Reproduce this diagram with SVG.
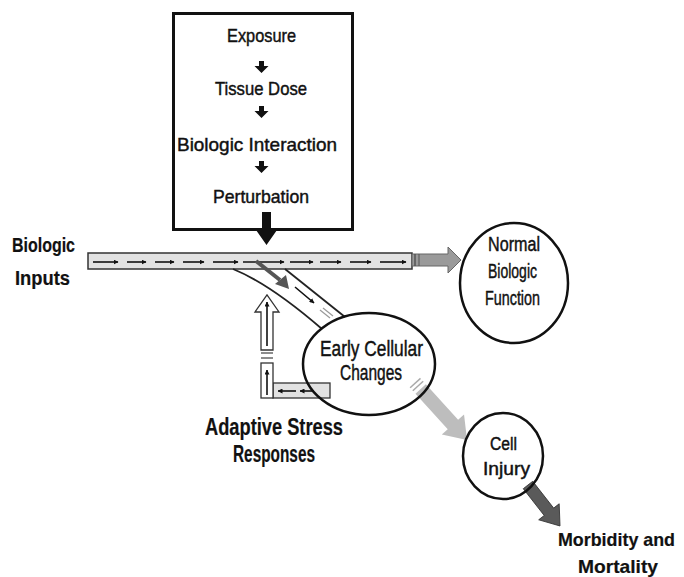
<svg xmlns="http://www.w3.org/2000/svg" width="684" height="577" viewBox="0 0 684 577">
<style>
text{font-family:"Liberation Sans",Arial,sans-serif;fill:#111;stroke:#111;stroke-width:0.45}
.t{font-size:19px}
.b{font-weight:bold;stroke-width:0.2}
.node{fill:none;stroke:#111;stroke-width:2.5}
.sm{stroke:#111;stroke-width:1.6;fill:none;marker-end:url(#ah)}
.pipe{stroke:#333;stroke-width:1.3}
</style>
<defs>
<marker id="ah" viewBox="0 0 10 10" refX="9" refY="5" markerWidth="5" markerHeight="5" markerUnits="userSpaceOnUse" orient="auto">
<path d="M0,0 L10,5 L0,10 z" fill="#111"/>
</marker>
</defs>
<rect width="684" height="577" fill="#fff"/>

<g id="connectors">
  <!-- main bar -->
  <rect x="88" y="253" width="324" height="16" fill="#e2e2e2" stroke="#333" stroke-width="1.5"/>
  <line class="sm" x1="93" y1="262" x2="118" y2="262"/>
  <line class="sm" x1="127" y1="262" x2="146" y2="262"/>
  <line class="sm" x1="155" y1="262" x2="174" y2="262"/>
  <line class="sm" x1="183" y1="262" x2="204" y2="262"/>
  <line class="sm" x1="213" y1="262" x2="238" y2="262"/>
  <line class="sm" x1="243" y1="262" x2="284" y2="262"/>
  <line class="sm" x1="290" y1="262" x2="313" y2="262"/>
  <line class="sm" x1="320" y1="262" x2="341" y2="262"/>
  <line class="sm" x1="350" y1="262" x2="371" y2="262"/>
  <line class="sm" x1="380" y1="262" x2="406" y2="262"/>
  <!-- bar end arrow -->
  <polygon points="412,254 448,254 448,247 461,260 448,273 448,266 412,266" fill="#9a9a9a" stroke="#666" stroke-width="1"/>
  <line x1="415" y1="254" x2="415" y2="266" stroke="#555" stroke-width="1.5"/>
  <line x1="419" y1="254" x2="419" y2="266" stroke="#555" stroke-width="1"/>

  <!-- perturbation arrow -->
  <polygon points="262,212 271,212 271,230 277,230 266.5,245 256,230 262,230" fill="#111"/>

  <!-- diverging channel -->
  <path d="M233,269 Q270,284 322,329" fill="none" stroke="#222" stroke-width="1.8"/>
  <path d="M285,269 L345,317" fill="none" stroke="#222" stroke-width="1.8"/>
  <line x1="256" y1="261" x2="280" y2="280" stroke="#555" stroke-width="4"/>
  <polygon points="275,284 286,275 289,289" fill="#555"/>
  <line class="sm" x1="295" y1="287" x2="314" y2="303"/>
  <line x1="320" y1="310" x2="330" y2="318" stroke="#999" stroke-width="1.3"/>
  <line x1="323" y1="308" x2="333" y2="316" stroke="#999" stroke-width="1.3"/>

  <!-- adaptive stress response pipe -->
  <polygon class="pipe" points="261,350 261,312 255,312 267,295 279,312 273,312 273,350" fill="#fff"/>
  <line x1="261" y1="353" x2="273" y2="353" stroke="#666" stroke-width="1.5"/>
  <line x1="261" y1="358" x2="273" y2="358" stroke="#666" stroke-width="1.5"/>
  <line class="sm" x1="267" y1="346" x2="267" y2="302"/>
  <rect class="pipe" x="273" y="383" width="57" height="15" fill="#e2e2e2"/>
  <rect class="pipe" x="261" y="363" width="12" height="35" fill="#fff"/>
  <line class="sm" x1="267" y1="395" x2="267" y2="370"/>
  <line class="sm" x1="296" y1="391" x2="278" y2="391"/>
  <line class="sm" x1="314" y1="391" x2="300" y2="391"/>

  <!-- early changes to cell injury -->
  <g transform="translate(418,386) rotate(47.8)">
    <polygon points="4,-7 52,-7 52,-15 73,0 52,15 52,7 4,7" fill="#bdbdbd"/>
    <line x1="-4" y1="-7" x2="-4" y2="7" stroke="#aaa" stroke-width="1.5"/>
    <line x1="0" y1="-7" x2="0" y2="7" stroke="#aaa" stroke-width="1.5"/>
  </g>
  <!-- cell injury to morbidity -->
  <g transform="translate(528,485) rotate(52)">
    <polygon points="0,-6 34,-6 34,-13 52,0 34,13 34,6 0,6" fill="#5a5a5a" stroke="#333" stroke-width="0.8"/>
  </g>
</g>

<g id="box">
  <rect x="173.5" y="13.5" width="179" height="216" fill="none" stroke="#111" stroke-width="3"/>
  <text class="t" x="227" y="42" textLength="69" lengthAdjust="spacingAndGlyphs">Exposure</text>
  <polygon points="259,61 264,61 264,66 268.5,66 261.5,73 254.5,66 259,66" fill="#111"/>
  <text class="t" x="215" y="95" textLength="92" lengthAdjust="spacingAndGlyphs">Tissue Dose</text>
  <polygon points="259,106 264,106 264,111 268.5,111 261.5,118 254.5,111 259,111" fill="#111"/>
  <text class="t" x="177" y="151" textLength="160" lengthAdjust="spacingAndGlyphs">Biologic Interaction</text>
  <polygon points="259,161 264,161 264,166 268.5,166 261.5,173 254.5,166 259,166" fill="#111"/>
  <text class="t" x="213" y="203" textLength="96" lengthAdjust="spacingAndGlyphs">Perturbation</text>
</g>

<g id="biologic-inputs">
  <text class="b" font-size="20" x="12" y="252" textLength="63" lengthAdjust="spacingAndGlyphs">Biologic</text>
  <text class="b" font-size="20" x="15" y="285" textLength="55" lengthAdjust="spacingAndGlyphs">Inputs</text>
</g>

<g id="normal-function">
  <ellipse class="node" cx="514" cy="283" rx="54" ry="60"/>
  <text font-size="20" x="488" y="251" textLength="52" lengthAdjust="spacingAndGlyphs">Normal</text>
  <text font-size="20" x="488" y="278" textLength="49" lengthAdjust="spacingAndGlyphs">Biologic</text>
  <text font-size="20" x="485" y="305" textLength="55" lengthAdjust="spacingAndGlyphs">Function</text>
</g>

<g id="early-changes">
  <ellipse class="node" cx="369" cy="364" rx="66" ry="51"/>
  <text font-size="22" x="320" y="356" textLength="103" lengthAdjust="spacingAndGlyphs">Early Cellular</text>
  <text font-size="22" x="340" y="380" textLength="62" lengthAdjust="spacingAndGlyphs">Changes</text>
</g>

<g id="adaptive">
  <text class="b" font-size="23" x="205" y="435" textLength="138" lengthAdjust="spacingAndGlyphs">Adaptive Stress</text>
  <text class="b" font-size="23" x="233" y="462" textLength="82" lengthAdjust="spacingAndGlyphs">Responses</text>
</g>

<g id="cell-injury">
  <ellipse class="node" cx="503" cy="456" rx="40" ry="43"/>
  <text font-size="18" x="490" y="450" textLength="27" lengthAdjust="spacingAndGlyphs">Cell</text>
  <text font-size="18" x="483" y="475" textLength="47" lengthAdjust="spacingAndGlyphs">Injury</text>
</g>

<g id="morbidity">
  <text class="b" font-size="19" x="558" y="546" textLength="117" lengthAdjust="spacingAndGlyphs">Morbidity and</text>
  <text class="b" font-size="19" x="578" y="573" textLength="80" lengthAdjust="spacingAndGlyphs">Mortality</text>
</g>
</svg>
